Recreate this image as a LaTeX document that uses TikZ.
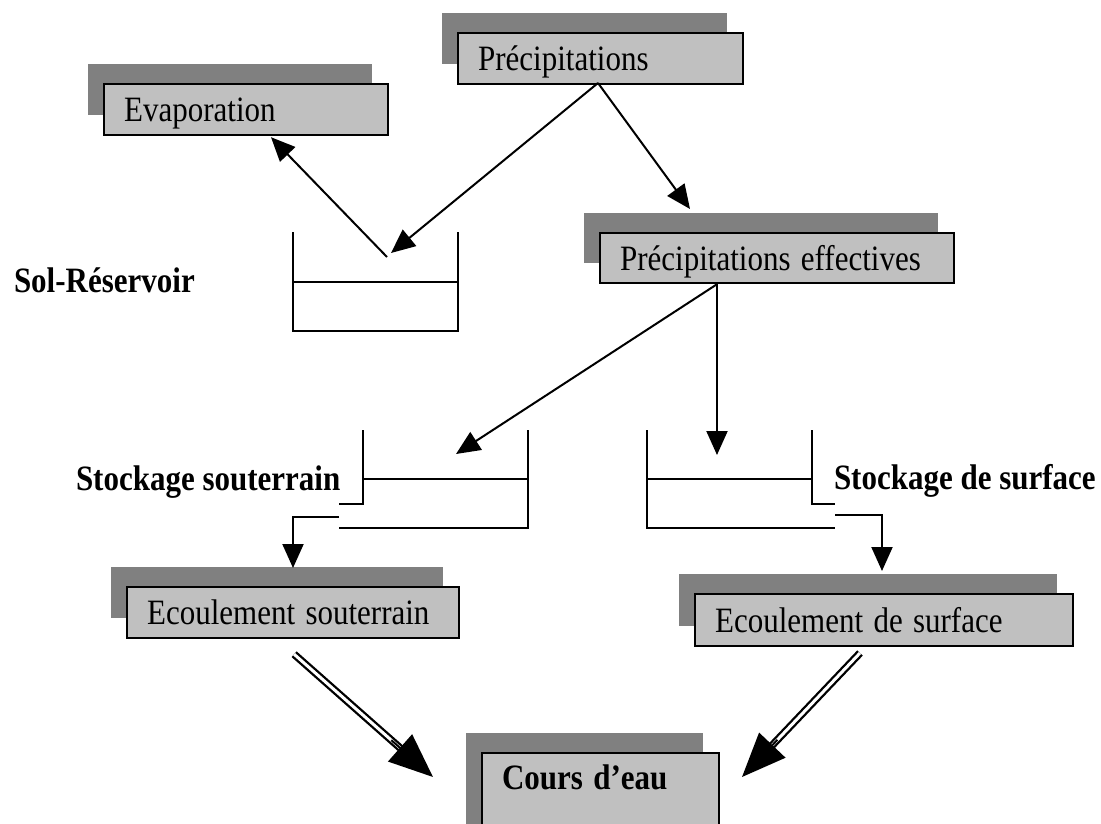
\documentclass[tikz,border=0pt]{standalone}
\usepackage{fontspec}
\usepackage{graphicx}
\setmainfont{Liberation Serif}
\usetikzlibrary{shadows,arrows.meta,calc}
\definecolor{boxgray}{RGB}{192,192,192}
\definecolor{shadowgray}{RGB}{128,128,128}
\newcommand{\vstretch}[1]{\scalebox{1}[1.15]{#1}}
\begin{document}
\begin{tikzpicture}[x=1pt,y=-1pt,line width=2pt,
  box/.style={draw=black,line width=2.2pt,fill=boxgray,anchor=north west,
    inner xsep=20pt,inner ysep=0pt,align=left,text height=24pt,text depth=0pt,
    font=\fontsize{31}{36}\selectfont,
    drop shadow={shadow xshift=-16pt,shadow yshift=20pt,fill=shadowgray,opacity=1}},
  lab/.style={font=\bfseries\fontsize{31}{36}\selectfont,inner sep=0pt,anchor=base west},
  arr/.style={-{Triangle[length=24pt,width=21pt]}},
  bigarr/.style={-{Triangle[length=44pt,width=36pt]}},
  dbl/.style={line width=2.3pt,double=white,double distance=3pt}]
\useasboundingbox (0,0) rectangle (1101,823);
\clip (0,0) rectangle (1101,823);

% boxes
\node[box,text width=244pt,minimum height=51pt] (evap) at (103,83) {\vstretch{Evaporation}};
\node[box,text width=245pt,minimum height=51pt] (prec) at (457,32) {\vstretch{Précipitations}};
\node[box,text width=314pt,minimum height=50pt] (peff) at (599,232) {\vstretch{Précipitations effectives}};
\node[box,text width=292pt,minimum height=51pt] (esout) at (126,586) {\vstretch{Ecoulement souterrain}};
\node[box,text width=338pt,minimum height=52pt] (esurf) at (694,593) {\vstretch{Ecoulement de surface}};
\node[box,text width=197pt,minimum height=100pt,text depth=52pt,
  font=\bfseries\fontsize{31}{36}\selectfont] (cours) at (481,752) {\vstretch{Cours d’eau}};

% labels
\node[lab] (sol) at (13,292) {\vstretch{Sol-Réservoir}};
\node[lab] (stsout) at (75,490) {\vstretch{Stockage souterrain}};
\node[lab] (stsurf) at (833,489) {\vstretch{Stockage de surface}};

% reservoirs
\draw (293,232) -- (293,331) -- (458,331) -- (458,232);
\draw (293,282) -- (458,282);
\draw (363,430) -- (363,504) -- (339,504);
\draw (528,430) -- (528,528) -- (339,528);
\draw (363,479) -- (528,479);
\draw (647,430) -- (647,528) -- (835,528);
\draw (812,430) -- (812,504) -- (835,504);
\draw (647,479) -- (812,479);

% connector points
\coordinate (precout) at (598,83);
\coordinate (solin) at (391,253);
\coordinate (solout) at (387,257);
\coordinate (evapin) at ($(evap.south west)+(168,1)$);
\coordinate (peffin) at (690,209);
\coordinate (peffout) at ($(peff.south west)+(118,0)$);
\coordinate (stsoutin) at (456,454);
\coordinate (stsurfin) at (717,455);
\coordinate (pipeL) at (339,517);
\coordinate (pipeLc) at (293,517);
\coordinate (esoutin) at (293,568);
\coordinate (pipeR) at (835,515);
\coordinate (pipeRc) at (882,515);
\coordinate (esurfin) at (882,571);
\coordinate (d1s) at ($(esout.south)+(1,15)$);
\coordinate (d1e) at (433,777);
\coordinate (d2s) at (860,653);
\coordinate (d2e) at (742,777);

% arrows
\draw[arr] (precout) -- (solin);
\draw[arr] (precout) -- (peffin);
\draw[arr] (solout) -- (evapin);
\draw[arr] (peffout) -- (stsurfin);
\draw[arr] (peffout) -- (stsoutin);
\draw[arr] (pipeL) -- (pipeLc) -- (esoutin);
\draw[arr] (pipeR) -- (pipeRc) -- (esurfin);

% double arrows
\draw[dbl,shorten >=30pt] (d1s) -- (d1e);
\draw[bigarr] ($(d1s)!0.7!(d1e)$) -- (d1e);
\draw[dbl,shorten >=30pt] (d2s) -- (d2e);
\draw[bigarr] ($(d2s)!0.7!(d2e)$) -- (d2e);
\end{tikzpicture}
\end{document}
